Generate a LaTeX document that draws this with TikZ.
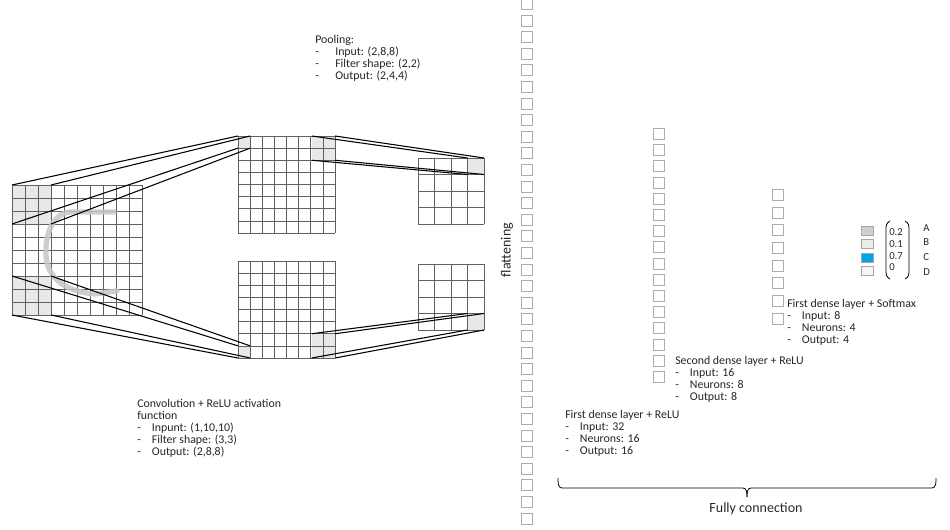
\documentclass[tikz,border=0pt]{standalone}
\usepackage{fontspec}
\setmainfont{Carlito}
\begin{document}
\begin{tikzpicture}[x=0.75pt,y=-0.75pt]
\tikzset{
  gline/.style={draw=gray!75!black, line width=0.45pt},
  conn/.style={draw=black, line width=0.8pt},
  cellbox/.style={draw=gray!65, fill=white, line width=0.6pt},
  shade/.style={fill=gray!18},
  lbl/.style={anchor=north west, inner sep=0pt, align=left, font=\fontsize{8.9}{9}\selectfont, text=black!85},
  val/.style={anchor=west, inner sep=0pt, font=\fontsize{8}{9}\selectfont, text=black!85},
}
\useasboundingbox (0,0) rectangle (950,530);
% ---------- left 10x10 input grid ----------
\fill[shade] (12,185) rectangle (51,224);
\fill[shade] (12,276) rectangle (51,315);
\foreach \k in {0,...,10}{
  \draw[gline] (12+13*\k,185) -- (12+13*\k,315);
  \draw[gline] (12,185+13*\k) -- (142,185+13*\k);
}
% handwritten stroke
\draw[gray!45, line width=4pt, line cap=round, opacity=0.85]
  (114,212) -- (70,212) .. controls (52,214) and (45,235) .. (46,255)
  .. controls (47,280) and (68,292) .. (95,294) -- (117,291);
% ---------- middle 8x8 grids ----------
\fill[shade] (238,136) rectangle (250.125,148.125);
\fill[shade] (311.75,136) rectangle (335,160.25);
\fill[shade] (238,345.875) rectangle (250.125,358);
\fill[shade] (311.75,333.75) rectangle (335,358);
\foreach \k in {0,...,8}{
  \draw[gline] (238+12.125*\k,136) -- (238+12.125*\k,233);
  \draw[gline] (238,136+12.125*\k) -- (335,136+12.125*\k);
  \draw[gline] (238+12.125*\k,261) -- (238+12.125*\k,358);
  \draw[gline] (238,261+12.125*\k) -- (335,261+12.125*\k);
}
% ---------- right 4x4 grids ----------
\fill[shade] (467.5,158) rectangle (484,174.5);
\fill[shade] (467.5,313.5) rectangle (484,330);
\foreach \k in {0,...,4}{
  \draw[gline] (418+16.5*\k,158) -- (418+16.5*\k,224);
  \draw[gline] (418,158+16.5*\k) -- (484,158+16.5*\k);
  \draw[gline] (418+16.5*\k,264) -- (418+16.5*\k,330);
  \draw[gline] (418,264+16.5*\k) -- (484,264+16.5*\k);
}
% ---------- named corners ----------
\coordinate (LA1) at (12,185);  \coordinate (LA2) at (51,185);
\coordinate (LA3) at (12,224);  \coordinate (LA4) at (51,224);
\coordinate (LB1) at (12,276);  \coordinate (LB2) at (51,276);
\coordinate (LB3) at (12,315);  \coordinate (LB4) at (51,315);
\coordinate (MA1) at (238,136); \coordinate (MA2) at (250.125,136);
\coordinate (MA3) at (238,148.125); \coordinate (MA4) at (250.125,148.125);
\coordinate (MB1) at (238,345.875); \coordinate (MB2) at (250.125,345.875);
\coordinate (MB3) at (238,358); \coordinate (MB4) at (250.125,358);
\coordinate (MC1) at (311.75,136); \coordinate (MC2) at (335,136);
\coordinate (MC3) at (311.75,160.25); \coordinate (MC4) at (335,160.25);
\coordinate (MD1) at (311.75,333.75); \coordinate (MD2) at (335,333.75);
\coordinate (MD3) at (311.75,358); \coordinate (MD4) at (335,358);
\coordinate (RA1) at (467.5,158); \coordinate (RA2) at (484,158);
\coordinate (RA3) at (467.5,174.5); \coordinate (RA4) at (484,174.5);
\coordinate (RB1) at (467.5,313.5); \coordinate (RB2) at (484,313.5);
\coordinate (RB3) at (467.5,330); \coordinate (RB4) at (484,330);
\foreach \i in {1,2,3,4}{
  \draw[conn] (LA\i) -- (MA\i);
  \draw[conn] (LB\i) -- (MB\i);
  \draw[conn] (MC\i) -- (RA\i);
  \draw[conn] (MD\i) -- (RB\i);
}
% ---------- texts left ----------
\node[lbl] (pool) at (315,35) {Pooling:\\
\makebox[15pt][l]{-}Input: (2,8,8)\\
\makebox[15pt][l]{-}Filter shape: (2,2)\\
\makebox[15pt][l]{-}Output: (2,4,4)};
\node[lbl] (conv) at (137,398.5) {Convolution + ReLU activation\\
function\\
\makebox[11pt][l]{-}Inpunt: (1,10,10)\\
\makebox[11pt][l]{-}Filter shape: (3,3)\\
\makebox[11pt][l]{-}Output: (2,8,8)};
% ---------- flattening column ----------
\foreach \k in {0,...,31}{
  \node[cellbox, minimum size=8.25pt, inner sep=0pt, anchor=north west] (f\k) at (521,-2+16.6*\k) {};
}
\node[rotate=90, font=\fontsize{10.5}{12}\selectfont, text=black!85] (flat) at (507,250) {flattening};
% ---------- dense layers ----------
\foreach \k in {0,...,15}{
  \node[cellbox, minimum size=8.25pt, inner sep=0pt, anchor=north west] (d\k) at (653,128+16.2*\k) {};
}
\foreach \k in {0,...,7}{
  \node[cellbox, minimum size=8.25pt, inner sep=0pt, anchor=north west] (e\k) at (772,189+17.7*\k) {};
}
\node[lbl] (t1) at (565,410) {First dense layer + ReLU\\
\makebox[11pt][l]{-}Input: 32\\
\makebox[11pt][l]{-}Neurons: 16\\
\makebox[11pt][l]{-}Output: 16};
\node[lbl] (t2) at (675,356) {Second dense layer + ReLU\\
\makebox[11pt][l]{-}Input: 16\\
\makebox[11pt][l]{-}Neurons: 8\\
\makebox[11pt][l]{-}Output: 8};
\node[lbl] (t3) at (787,299) {First dense layer + Softmax\\
\makebox[11pt][l]{-}Input: 8\\
\makebox[11pt][l]{-}Neurons: 4\\
\makebox[11pt][l]{-}Output: 4};
% ---------- output ----------
\node[draw=gray!70, fill=gray!38, minimum width=9pt, minimum height=6.75pt, inner sep=0pt, anchor=north west] (o1) at (861,226) {};
\node[draw=gray!70, fill=gray!15, minimum width=9pt, minimum height=6.75pt, inner sep=0pt, anchor=north west] (o2) at (861,239.5) {};
\node[draw=gray!70, fill={rgb,255:red,0;green,162;blue,232}, minimum width=9pt, minimum height=6.75pt, inner sep=0pt, anchor=north west] (o3) at (861,253) {};
\node[draw=gray!70, fill=gray!8, minimum width=9pt, minimum height=6.75pt, inner sep=0pt, anchor=north west] (o4) at (861,266.5) {};
\draw[line width=0.6pt] (890,221) .. controls (886,223) and (886,226) .. (886,230) -- (886,270) .. controls (886,274) and (886,277) .. (890,279);
\draw[line width=0.6pt] (905,221) .. controls (909,223) and (909,226) .. (909,230) -- (909,270) .. controls (909,274) and (909,277) .. (905,279);
\node[val] (v1) at (889,232) {0.2};
\node[val] (v2) at (889,244) {0.1};
\node[val] (v3) at (889,256) {0.7};
\node[val] (v4) at (889,267) {0};
\node[val] (lA) at (923,228) {A};
\node[val] (lB) at (923,242) {B};
\node[val] (lC) at (923,257) {C};
\node[val] (lD) at (923,272) {D};
% ---------- brace ----------
\draw[line width=0.6pt] (558,478) to[out=-90,in=180] (562,488) -- (743,488) to[out=0,in=90] (747,497);
\draw[line width=0.6pt] (747,497) to[out=90,in=180] (751,488) -- (932,488) to[out=0,in=-90] (936,478);
\node[font=\fontsize{10.5}{12}\selectfont, text=black!85] (fc) at (756,509) {Fully connection};
\end{tikzpicture}
\end{document}
